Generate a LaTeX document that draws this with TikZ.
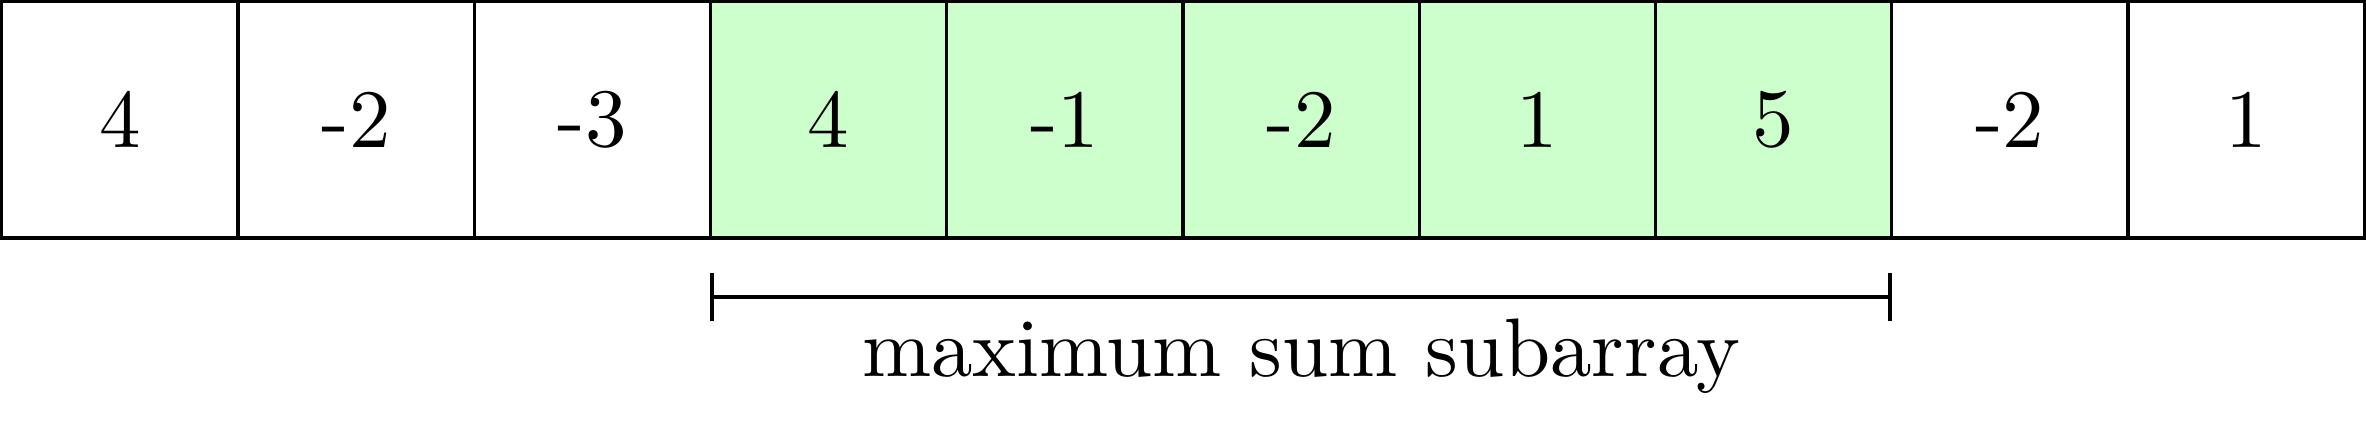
\documentclass[tikz,border=0pt]{standalone}
\usetikzlibrary{arrows.meta}
\begin{document}
\begin{tikzpicture}[
  cell/.style={draw, line width=0.4pt, minimum size=1cm, inner sep=0pt, outer sep=0pt},
  hl/.style={cell, fill=green!20},
  span/.style={line width=0.4pt, {Bar[width=0.2cm]}-{Bar[width=0.2cm]}}
]
\useasboundingbox (-0.2pt,0.2pt) rectangle (284.73pt,-50.49pt);
\node[cell] (c0) at (0.5,-0.5) {4};
\node[cell] (c1) at (1.5,-0.5) {-2};
\node[cell] (c2) at (2.5,-0.5) {-3};
\node[hl]   (c3) at (3.5,-0.5) {4};
\node[hl]   (c4) at (4.5,-0.5) {-1};
\node[hl]   (c5) at (5.5,-0.5) {-2};
\node[hl]   (c6) at (6.5,-0.5) {1};
\node[hl]   (c7) at (7.5,-0.5) {5};
\node[cell] (c8) at (8.5,-0.5) {-2};
\node[cell] (c9) at (9.5,-0.5) {1};
\coordinate (bl) at (3,-1.25);
\coordinate (br) at (8,-1.25);
\draw[span] (bl) -- (br);
\node[anchor=base, inner sep=0pt] (lbl) at (5.5,-1.587) {maximum sum subarray};
\end{tikzpicture}
\end{document}
